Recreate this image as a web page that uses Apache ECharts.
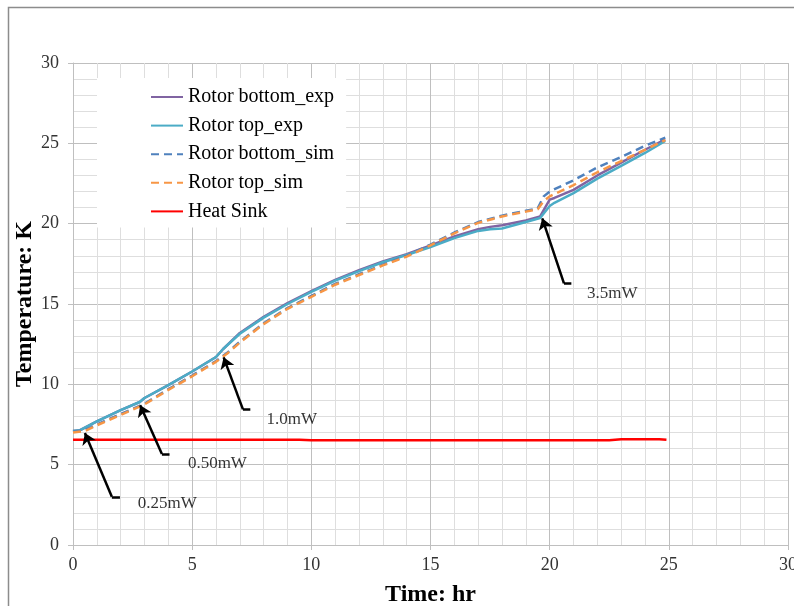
<!DOCTYPE html>
<html>
<head>
<meta charset="utf-8">
<script src="https://cdn.jsdelivr.net/npm/echarts@6/dist/echarts.min.js"></script>
<style>html,body{margin:0;padding:0;background:#fff;}#chart{width:794px;height:606px;}</style>
</head>
<body>
<div id="chart"></div>
<script>
// ---- data ----
const seriesNames = ['Rotor bottom_exp', 'Rotor top_exp', 'Rotor bottom_sim', 'Rotor top_sim', 'Heat Sink'];

const timeExp   = [0, 0.3, 1, 2, 2.8, 3, 4, 5, 6, 6.3, 7, 8, 9, 10, 11, 12, 13, 14, 15, 16, 17, 17.5, 18, 19, 19.6, 20, 20.2, 21, 22, 23, 24, 24.85];
const bottomExp = [7.1, 7.15, 7.7, 8.4, 8.9, 9.15, 9.95, 10.8, 11.7, 12.2, 13.2, 14.2, 15.05, 15.8, 16.5, 17.1, 17.65, 18.1, 18.65, 19.2, 19.65, 19.8, 19.9, 20.2, 20.45, 21.5, 21.6, 22.1, 23.0, 23.8, 24.6, 25.25];
const topExp    = [7.1, 7.15, 7.7, 8.4, 8.9, 9.15, 9.95, 10.8, 11.7, 12.2, 13.15, 14.15, 15.0, 15.75, 16.45, 17.05, 17.6, 18.05, 18.55, 19.1, 19.55, 19.65, 19.7, 20.1, 20.35, 21.1, 21.3, 21.9, 22.8, 23.6, 24.4, 25.15];

const timeSim   = [0, 0.5, 1, 2, 3, 4, 5, 6, 6.5, 7, 8, 9, 10, 11, 12, 13, 14, 15, 16, 17, 18, 19, 19.5, 19.75, 20, 21, 22, 23, 24, 24.85];
const bottomSim = [7.05, 7.15, 7.5, 8.15, 8.8, 9.7, 10.55, 11.45, 12.0, 12.65, 13.8, 14.75, 15.5, 16.25, 16.85, 17.45, 18.0, 18.7, 19.45, 20.1, 20.5, 20.8, 20.95, 21.7, 22.0, 22.7, 23.5, 24.15, 24.85, 25.35];
const topSim    = [7.0, 7.1, 7.45, 8.1, 8.75, 9.65, 10.5, 11.4, 11.95, 12.6, 13.75, 14.7, 15.45, 16.2, 16.8, 17.4, 17.95, 18.65, 19.4, 20.05, 20.45, 20.75, 20.9, 21.4, 21.7, 22.4, 23.2, 23.9, 24.6, 25.2];

const timeSink  = [0, 9.5, 10, 22.5, 23, 24.6, 24.9];
const heatSink  = [6.55, 6.55, 6.52, 6.52, 6.58, 6.58, 6.55];

const xTicks = [0, 5, 10, 15, 20, 25, 30];
const yTicks = [0, 5, 10, 15, 20, 25, 30];

// annotations: [tip, elbow, end] in data units, and label anchor
const annotationTexts = ['0.25mW', '0.50mW', '1.0mW', '3.5mW'];
const arrowTips   = [[0.50, 6.97], [2.82, 8.7], [6.32, 11.68], [19.69, 20.33]];
const arrowElbows = [[1.63, 3.0], [3.73, 5.66], [7.13, 8.44], [20.6, 16.28]];
const arrowEnds   = [[1.97, 3.0], [4.05, 5.66], [7.44, 8.44], [20.91, 16.28]];
const labelAnchors = [[2.7, 2.6], [4.8, 5.1], [8.1, 7.84], [21.55, 15.68]];

// ---- chart ----
const zip = (xs, ys) => xs.map((x, i) => [x, ys[i]]);
const colors = ['#8064A2', '#4BACC6', '#4F81BD', '#F79646', '#FF0000'];
const serif = '"Liberation Serif", "Times New Roman", serif';

const chart = echarts.init(document.getElementById('chart'));
const lineSeries = [
  {name: seriesNames[0], data: zip(timeExp, bottomExp), dash: 'solid'},
  {name: seriesNames[1], data: zip(timeExp, topExp), dash: 'solid'},
  {name: seriesNames[2], data: zip(timeSim, bottomSim), dash: [8, 5]},
  {name: seriesNames[3], data: zip(timeSim, topSim), dash: [8, 5]},
  {name: seriesNames[4], data: zip(timeSink, heatSink), dash: 'solid'}
].map((s, i) => ({
  name: s.name,
  type: 'line',
  data: s.data,
  symbol: 'none',
  symbolSize: 0,
  smooth: false,
  animation: false,
  color: colors[i],
  lineStyle: {color: colors[i], width: 2.5, type: s.dash},
  z: 3 + i
}));

const option = {
  animation: false,
  backgroundColor: '#fff',
  graphic: [{
    type: 'rect', left: 6, top: 5, shape: {x: 0, y: 0, width: 820, height: 640},
    style: {fill: 'none', stroke: '#8c8c8c', lineWidth: 1.5}, silent: true, z: 0
  }],
  grid: {left: 73, top: 63, right: 6, bottom: 61, containLabel: false, outerBoundsMode: 'none'},
  xAxis: {
    type: 'value', min: xTicks[0], max: xTicks[xTicks.length - 1], interval: 5,
    name: 'Time: hr', nameLocation: 'middle', nameGap: 38, nameMoveOverlap: false,
    nameTextStyle: {fontFamily: serif, fontSize: 24, fontWeight: 'bold', color: '#000'},
    axisLine: {show: true, lineStyle: {color: '#bfbfbf', width: 1}},
    axisTick: {show: true, length: 5, lineStyle: {color: '#bfbfbf'}},
    axisLabel: {fontFamily: serif, fontSize: 18, color: '#333', margin: 11},
    splitLine: {show: true, lineStyle: {color: '#bfbfbf', width: 1}},
    minorTick: {show: false, splitNumber: 5},
    minorSplitLine: {show: true, lineStyle: {color: '#dedede', width: 1}}
  },
  yAxis: {
    type: 'value', min: yTicks[0], max: yTicks[yTicks.length - 1], interval: 5,
    name: 'Temperature: K', nameLocation: 'middle', nameGap: 36, nameMoveOverlap: false,
    nameTextStyle: {fontFamily: serif, fontSize: 24, fontWeight: 'bold', color: '#000'},
    axisLine: {show: true, lineStyle: {color: '#bfbfbf', width: 1}},
    axisTick: {show: true, length: 5, lineStyle: {color: '#bfbfbf'}},
    axisLabel: {fontFamily: serif, fontSize: 18, color: '#333', margin: 14},
    splitLine: {show: true, lineStyle: {color: '#bfbfbf', width: 1}},
    minorTick: {show: false, splitNumber: 5},
    minorSplitLine: {show: true, lineStyle: {color: '#dedede', width: 1}}
  },
  legend: {
    data: seriesNames,
    orient: 'vertical',
    left: 97, top: 78,
    backgroundColor: '#fff',
    padding: [9, 12, 6, 53],
    itemWidth: 32, itemHeight: 14, itemGap: 8.6,
    itemStyle: {opacity: 0},
    textStyle: {fontFamily: serif, fontSize: 20, lineHeight: 20, color: '#000'},
    z: 10
  },
  series: lineSeries.concat([
    {
      type: 'lines', coordinateSystem: 'cartesian2d', silent: true,
      symbol: ['arrow', 'none'], symbolSize: 11,
      lineStyle: {color: '#000', width: 2.5, opacity: 1, curveness: 0},
      data: arrowTips.map((t, i) => ({coords: [t, arrowElbows[i]]})),
      z: 20
    },
    {
      type: 'lines', coordinateSystem: 'cartesian2d', silent: true,
      symbol: ['none', 'none'],
      lineStyle: {color: '#000', width: 2.5, opacity: 1, curveness: 0},
      data: arrowElbows.map((e, i) => ({coords: [e, arrowEnds[i]]})),
      z: 20
    },
    {
      type: 'scatter', silent: true, symbol: 'circle', symbolSize: 1,
      itemStyle: {color: 'rgba(0,0,0,0)'},
      data: labelAnchors.map((p, i) => ({value: p, name: annotationTexts[i]})),
      label: {
        show: true, position: 'right', distance: 0,
        formatter: p => p.name,
        fontFamily: serif, fontSize: 17, color: '#000'
      },
      labelLayout: {hideOverlap: false},
      z: 20
    }
  ])
};
chart.setOption(option);
</script>
</body>
</html>
